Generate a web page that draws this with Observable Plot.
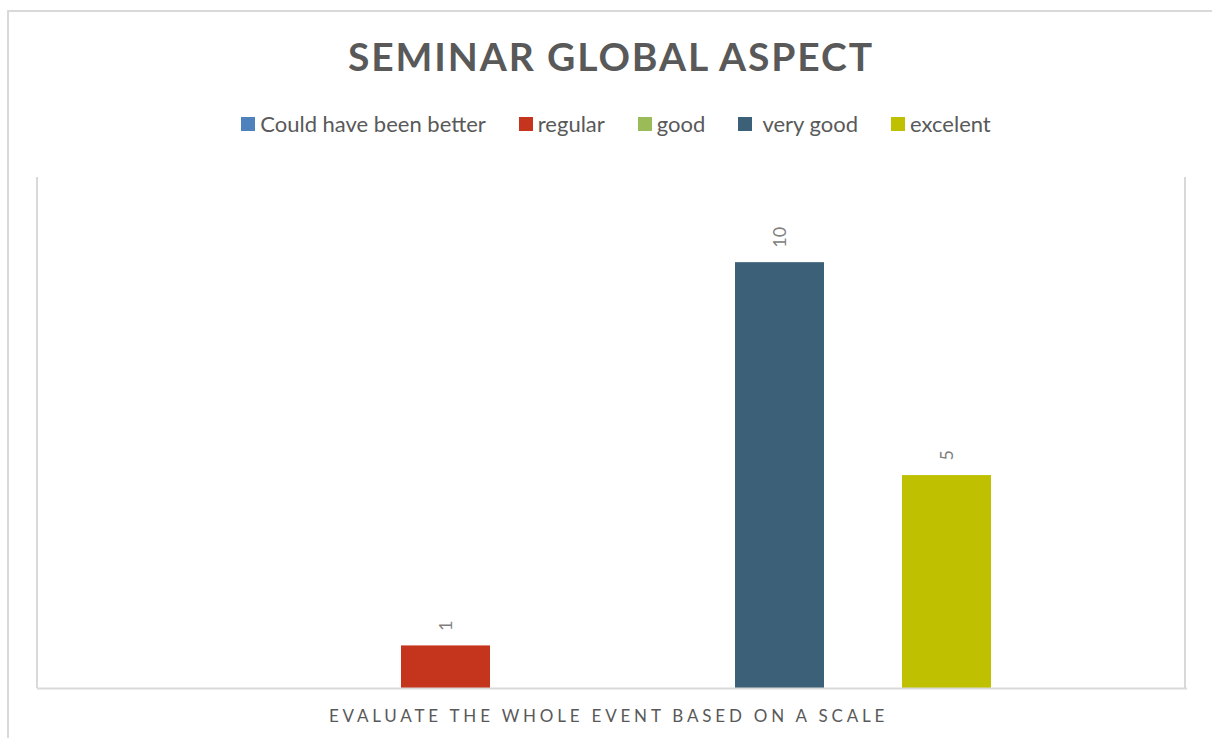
<!DOCTYPE html>
<html>
<head>
<meta charset="utf-8">
<script src="https://cdn.jsdelivr.net/npm/d3@7"></script>
<script src="https://cdn.jsdelivr.net/npm/@observablehq/plot@0.6"></script>
<style>
  html, body { margin: 0; padding: 0; background: #fff; }
  body { width: 1212px; height: 738px; position: relative; overflow: hidden; font-family: Lato, "Open Sans", sans-serif; }
  #border { position: absolute; left: 7px; top: 10px; width: 1240px; height: 760px; border: 2px solid #d9d9d9; box-sizing: border-box; }
  #title { position: absolute; left: 0; width: 1222px; top: 33px; text-align: center; font-size: 39px; font-weight: bold; color: #595959; letter-spacing: 1.9px; }
  #legend { position: absolute; left: 0; width: 1232px; top: 110px; display: flex; justify-content: center; gap: 33px; font-size: 22px; color: #595959; }
  .item { display: flex; align-items: center; white-space: pre; }
  .sw { width: 14px; height: 14px; margin-right: 5px; }
  #plotbox { position: absolute; left: 37px; top: 177px; width: 1150px; height: 511px; border-left: 2px solid #d9d9d9; border-right: 2px solid #d9d9d9; box-sizing: border-box; margin-left: -1px; }
  #chart { position: absolute; left: 0; top: 150px; }
</style>
</head>
<body>
<div id="border"></div>
<div id="title">SEMINAR GLOBAL ASPECT</div>
<div id="legend"></div>
<div id="plotbox"></div>
<div id="chart"></div>
<script>
const categories = ["Could have been better", "regular", "good", "very good", "excelent"];
const legendLabels = ["Could have been better", "regular", "good", " very good", "excelent"];
const values = [0, 1, 0, 10, 5];
const colors = ["#4f81bd", "#c5341c", "#9bbb59", "#3d6079", "#bec000"];
const axisTitle = "EVALUATE THE WHOLE EVENT BASED ON A SCALE";

const data = categories.map((c, i) => ({category: c, value: values[i]}));

const legend = document.getElementById("legend");
categories.forEach((c, i) => {
  const it = document.createElement("div");
  it.className = "item";
  const sw = document.createElement("span");
  sw.className = "sw";
  sw.style.background = colors[i];
  const tx = document.createElement("span");
  tx.textContent = legendLabels[i];
  it.appendChild(sw); it.appendChild(tx);
  legend.appendChild(it);
});

const chart = Plot.plot({
  width: 1212,
  height: 588,
  marginLeft: 37,
  marginRight: 25,
  marginTop: 27,
  marginBottom: 50,
  style: {background: "transparent", fontFamily: "Lato, 'Open Sans', sans-serif"},
  x: {domain: categories, paddingInner: 0.469, paddingOuter: 1.167, axis: null},
  y: {domain: [0, 12], axis: null},
  color: {domain: categories, range: colors},
  marks: [
    Plot.barY(data, {x: "category", y: "value", fill: "category"}),
    Plot.ruleY([0], {stroke: "#d9d9d9", strokeWidth: 2}),
    Plot.text(data.filter(d => d.value > 0), {
      x: "category", y: "value", text: d => String(d.value),
      rotate: -90, textAnchor: "start", dy: -15,
      fill: "#808080", fontSize: 18
    }),
    Plot.text([axisTitle], {
      frameAnchor: "bottom", dy: 33, dx: -4, text: d => d, fill: "#595959", fontSize: 17
    })
  ]
});
chart.querySelectorAll("text").forEach(t => {
  if (t.textContent === axisTitle) t.style.letterSpacing = "3.8px";
});
document.getElementById("chart").appendChild(chart);
</script>
</body>
</html>
